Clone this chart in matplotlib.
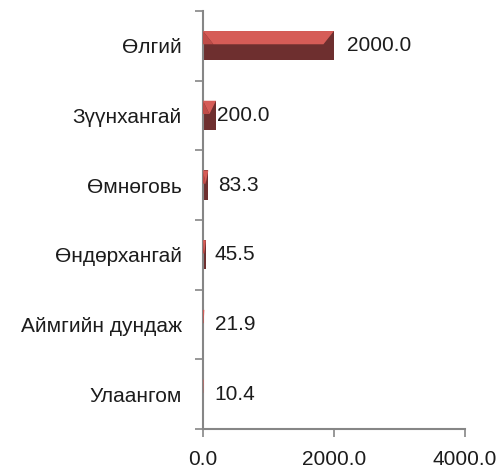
import matplotlib
matplotlib.use("Agg")
import matplotlib.pyplot as plt
from matplotlib.patches import Polygon
from matplotlib.ticker import FormatStrFormatter

plt.rcParams['font.family'] = ['Liberation Sans', 'DejaVu Sans']

categories = ["Өлгий", "Зүүнхангай", "Өмнөговь", "Өндөрхангай", "Аймгийн дундаж", "Улаангом"]
values = [2000.0, 200.0, 83.3, 45.5, 21.9, 10.4]
xticks = [0, 2000, 4000]

# label gap from bar end, in pixels (Excel placed them a bit unevenly)
label_gap_px = [13, 1, 10, 9, 11, 11]

dark = "#6e2f2f"
light = "#d65c57"
side = "#bf4c48"
axis_col = "#868686"
text_col = "#1c1c1c"

fig = plt.figure(figsize=(5.01, 4.70), dpi=100)
ax = fig.add_axes([0.405, 0.087, 0.523, 0.89])

n = len(categories)
ypos = list(range(n))[::-1]
h = 0.42
ax.barh(ypos, values, height=h, color=dark, edgecolor="none", zorder=2)

# bevel faces on top of each bar
for y, v, g in zip(ypos, values, label_gap_px):
    d = min(160, v / 2)
    top = y + h / 2
    mid = y + 0.02
    ax.add_patch(Polygon([(0, top), (v, top), (v - d, mid), (d, mid)],
                         closed=True, facecolor=light, edgecolor="none", zorder=3))
    ax.add_patch(Polygon([(0, top), (d, mid), (0, mid)],
                         closed=True, facecolor=side, edgecolor="none", zorder=3))
    ax.annotate(f"{v:.1f}", xy=(v, y), xytext=(g * 0.72, 0), textcoords="offset points",
                ha="left", va="center", fontsize=15, color=text_col)

ax.set_xlim(0, 4000)
ax.set_ylim(-0.5, n - 0.5)
ax.set_xticks(xticks)
ax.xaxis.set_major_formatter(FormatStrFormatter("%.1f"))
ax.set_yticks(ypos)
ax.set_yticklabels(categories)
ax.set_yticks([i - 0.5 for i in range(n + 1)], minor=True)

ax.tick_params(axis="y", which="major", length=0, pad=15, labelsize=15, labelcolor=text_col)
ax.tick_params(axis="y", which="minor", length=6, width=1.2, color=axis_col, direction="out")
ax.tick_params(axis="x", length=6, width=1.2, color=axis_col, direction="out",
               pad=9, labelsize=15, labelcolor=text_col)

for s in ["top", "right"]:
    ax.spines[s].set_visible(False)
for s in ["left", "bottom"]:
    ax.spines[s].set_color(axis_col)
    ax.spines[s].set_linewidth(1.5)

fig.savefig("out.png", dpi=100)
